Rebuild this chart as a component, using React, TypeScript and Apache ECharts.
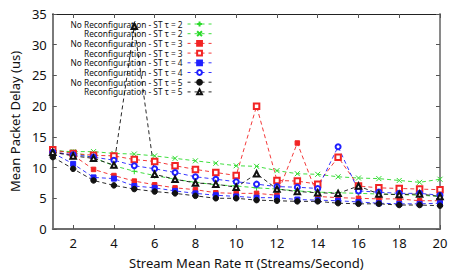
import React, { useEffect, useRef } from "react";
import * as echarts from "echarts";

const xValues = [1, 2, 3, 4, 5, 6, 7, 8, 9, 10, 11, 12, 13, 14, 15, 16, 17, 18, 19, 20];
const xTickValues = [2, 4, 6, 8, 10, 12, 14, 16, 18, 20];

const noReconfST2 = [12.8, 12.5, 11.6, 10.3, 9.4, 8.7, 8.1, 7.6, 7.2, 7.0, 6.7, 6.5, 6.2, 6.0, 5.9, 5.8, 5.7, 5.6, 5.5, 5.3];
const reconfST2 = [12.7, 12.6, 12.6, 12.3, 12.2, 11.9, 11.5, 11.1, 10.7, 10.3, 10.2, 9.5, 9.0, 8.9, 8.5, 8.3, 8.2, 7.9, 7.6, 8.1];
const noReconfST3 = [12.6, 12.0, 9.7, 8.7, 7.8, 7.2, 6.7, 6.4, 5.9, 5.8, 5.8, 5.5, 14.0, 5.3, 5.1, 5.0, 4.9, 4.9, 4.6, 4.6];
const reconfST3 = [12.9, 12.3, 12.0, 11.9, 11.3, 11.0, 10.3, 9.7, 9.2, 8.7, 20.0, 7.9, 7.8, 7.3, 11.7, 7.0, 6.7, 6.6, 6.5, 6.4];
const noReconfST4 = [12.4, 10.6, 8.4, 8.2, 7.0, 6.7, 6.2, 5.8, 5.5, 5.3, 5.1, 5.1, 4.8, 4.7, 4.6, 4.4, 4.2, 4.1, 4.1, 4.2];
const reconfST4 = [12.5, 12.1, 11.7, 11.2, 10.3, 9.8, 9.2, 8.5, 8.1, 7.7, 7.3, 6.9, 6.8, 6.6, 13.4, 6.2, 6.0, 5.8, 5.8, 5.5];
const noReconfST5 = [11.7, 9.8, 7.9, 7.1, 6.5, 6.1, 5.8, 5.4, 5.0, 5.0, 4.7, 4.6, 4.5, 4.5, 4.2, 4.1, 4.1, 3.9, 3.9, 3.8];
const reconfST5 = [12.5, 11.9, 11.5, 10.4, 33.0, 8.9, 8.1, 7.5, 7.3, 6.8, 9.0, 6.5, 6.1, 5.9, 5.8, 7.0, 5.7, 5.6, 5.7, 5.3];

const seriesNames = [
  "No Reconfiguration - ST τ = 2",
  "Reconfiguration - ST τ = 2",
  "No Reconfiguration - ST τ = 3",
  "Reconfiguration - ST τ = 3",
  "No Reconfiguration - ST τ = 4",
  "Reconfiguration - ST τ = 4",
  "No Reconfiguration - ST τ = 5",
  "Reconfiguration - ST τ = 5",
];

const FONT = "Noto Sans";
const GREEN = "#2ada2a";
const RED = "#f22424";
const BLUE = "#2020ff";
const BLACK = "#111111";

const PLUS = "path://M0,5L10,5M5,0L5,10";
const CROSS = "path://M0,0L10,10M10,0L0,10";

export default function App() {
  const ref = useRef<HTMLDivElement>(null);
  useEffect(() => {
    const chart = echarts.init(ref.current!, null, { renderer: "svg" });
    const mk = (name: string, data: number[], color: string, symbol: string, size: number) => ({
      name,
      type: "line",
      data: xValues.map((x, i) => [x, data[i]]),
      symbol,
      symbolSize: size,
      showAllSymbol: true,
      lineStyle: { color, width: 0.9, type: [4, 3] },
      itemStyle: { color, borderColor: color, borderWidth: 1 },
      emphasis: { disabled: true },
    });
    const series = [
      mk(seriesNames[0], noReconfST2, GREEN, PLUS, 6),
      mk(seriesNames[1], reconfST2, GREEN, CROSS, 5),
      mk(seriesNames[2], noReconfST3, RED, "rect", 4.5),
      mk(seriesNames[3], reconfST3, RED, "emptyRect", 5.5),
      mk(seriesNames[4], noReconfST4, BLUE, "rect", 5),
      mk(seriesNames[5], reconfST4, BLUE, "emptyCircle", 5),
      mk(seriesNames[6], noReconfST5, BLACK, "circle", 5.5),
      mk(seriesNames[7], reconfST5, BLACK, "emptyTriangle", 5.5),
    ];
    chart.setOption({
      animation: false,
      textStyle: { fontFamily: FONT },
      grid: { left: 44, right: 17, top: 14, bottom: 40, containLabel: false },
      legend: {
        orient: "vertical",
        align: "right",
        right: 245,
        top: 20,
        padding: 0,
        itemWidth: 24,
        itemHeight: 6,
        itemGap: 1.7,
        lineStyle: { width: 0.9, type: [3, 4] },
        textStyle: { fontFamily: FONT, fontSize: 8.3, color: "#111" },
        data: seriesNames,
      },
      xAxis: [
        {
          type: "value",
          min: 1,
          max: 20,
          name: "Stream Mean Rate π (Streams/Second)",
          nameLocation: "middle",
          nameGap: 27,
          nameTextStyle: { fontFamily: FONT, fontSize: 13, color: "#111" },
          axisLine: { lineStyle: { color: "#6e6e6e", width: 2 } },
          axisTick: { inside: true, length: 4, customValues: xTickValues, lineStyle: { color: "#555" } },
          axisLabel: { customValues: xTickValues, margin: 7, fontSize: 13, color: "#111", fontFamily: FONT },
          splitLine: { show: false },
        },
        {
          type: "value",
          position: "top",
          min: 1,
          max: 20,
          axisLine: { show: true, onZero: false, lineStyle: { color: "#222", width: 1 } },
          axisTick: { inside: true, length: 4, customValues: xTickValues, lineStyle: { color: "#555" } },
          axisLabel: { show: false },
          splitLine: { show: false },
        },
      ],
      yAxis: [
        {
          type: "value",
          min: 0,
          max: 35,
          interval: 5,
          name: "Mean Packet Delay (us)",
          nameLocation: "middle",
          nameGap: 26,
          nameTextStyle: { fontFamily: FONT, fontSize: 13, color: "#111" },
          axisLine: { show: true, lineStyle: { color: "#7a7a7a", width: 2 } },
          axisTick: { show: true, inside: true, length: 4, lineStyle: { color: "#555" } },
          axisLabel: { margin: 6, fontSize: 13, color: "#111", fontFamily: FONT },
          splitLine: { show: false },
        },
        {
          type: "value",
          position: "right",
          min: 0,
          max: 35,
          interval: 5,
          axisLine: { show: true, onZero: false, lineStyle: { color: "#8a8a8a", width: 2 } },
          axisTick: { show: true, inside: true, length: 4, lineStyle: { color: "#555" } },
          axisLabel: { show: false },
          splitLine: { show: false },
        },
      ],
      series,
    });
    return () => chart.dispose();
  }, []);
  return (
    <div
      ref={ref}
      style={{ position: "fixed", left: 0, top: 0, width: 457, height: 274, background: "#fff" }}
    />
  );
}
